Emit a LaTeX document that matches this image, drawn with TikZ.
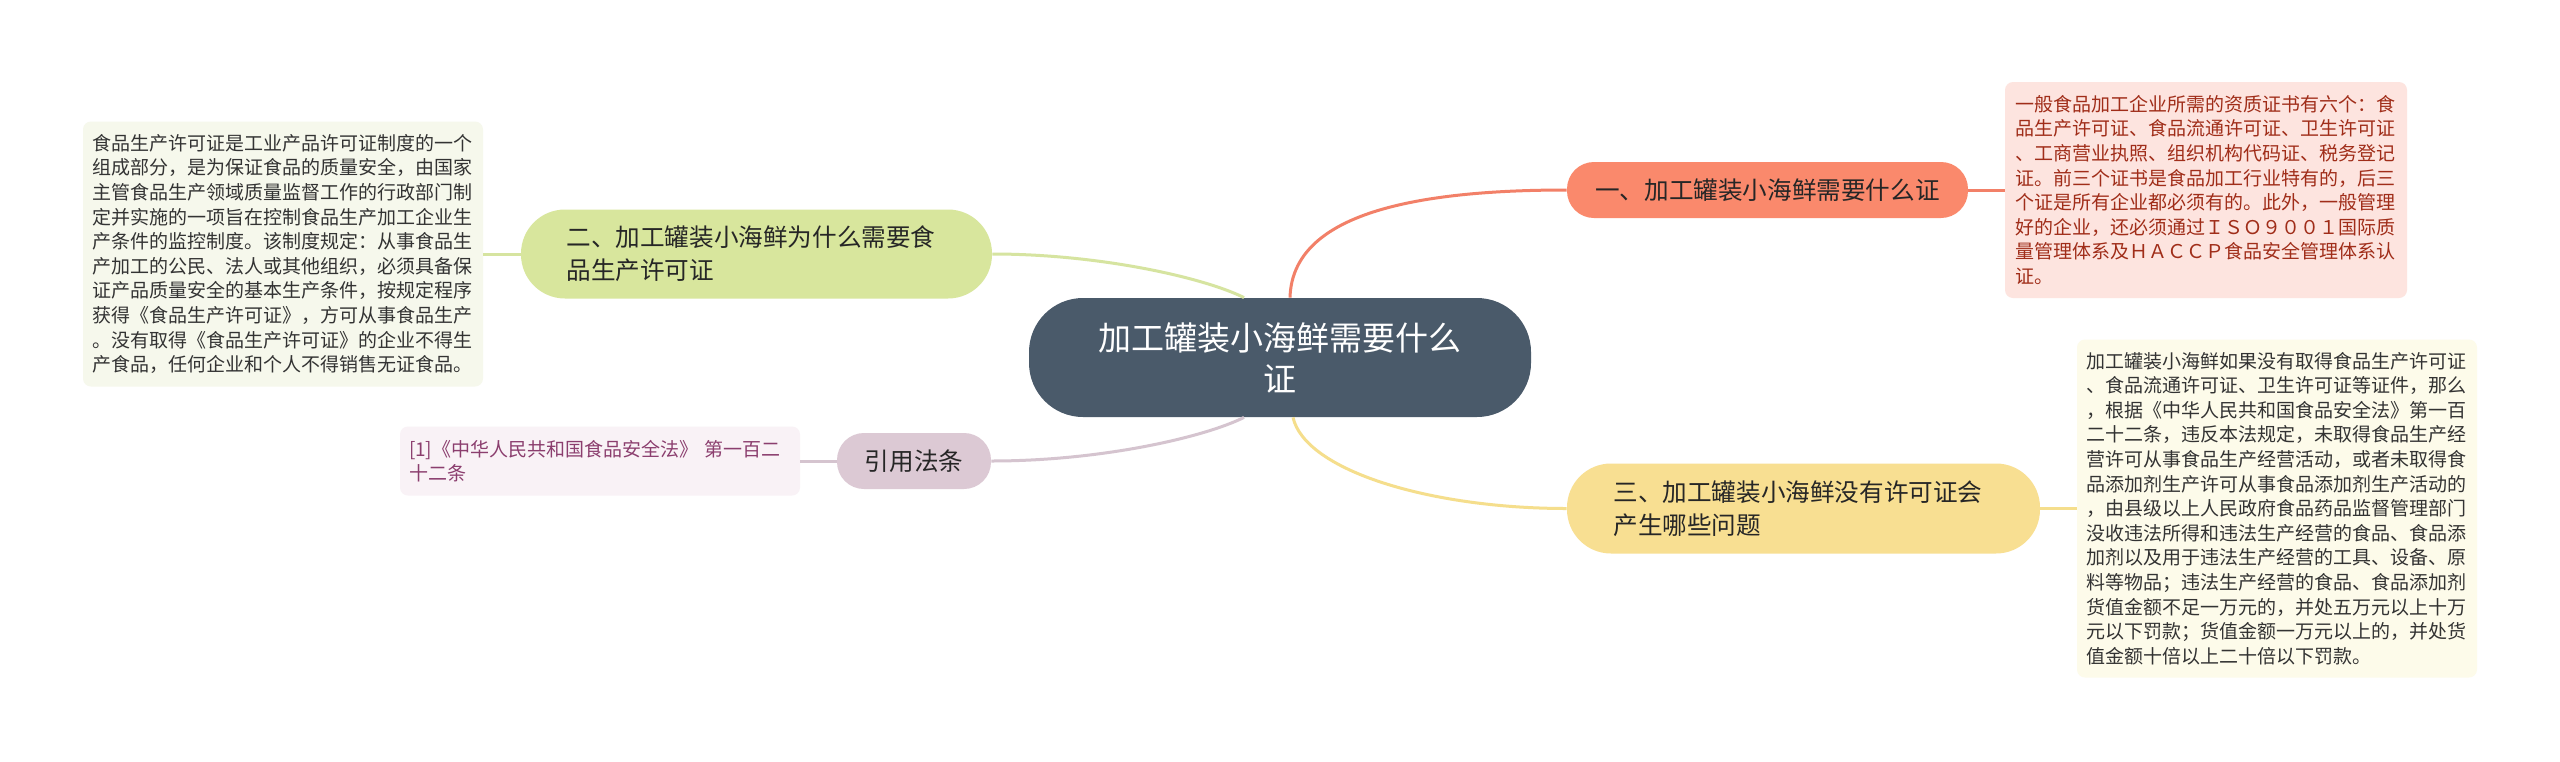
\documentclass[tikz,border=0pt]{standalone}
\usepackage{fontspec}
\setmainfont{Noto Sans CJK SC}
\usepackage{tikz}

\begin{document}
\begin{tikzpicture}[x=0.5pt,y=-0.5pt]
		
		\definecolor{slate}{RGB}{74,90,106}
		\definecolor{coral}{RGB}{250,137,108}
		\definecolor{coralline}{RGB}{242,128,104}
		\definecolor{blush}{RGB}{253,228,223}
		\definecolor{rust}{RGB}{160,45,25}
		\definecolor{sand}{RGB}{248,223,146}
		\definecolor{sandline}{RGB}{245,222,140}
		\definecolor{cream}{RGB}{253,251,234}
		\definecolor{lime}{RGB}{216,230,157}
		\definecolor{limeline}{RGB}{214,228,160}
		\definecolor{mist}{RGB}{246,248,236}
		\definecolor{mauve}{RGB}{220,201,212}
		\definecolor{mauveline}{RGB}{213,196,207}
		\definecolor{lilac}{RGB}{249,242,246}
		\definecolor{plum}{RGB}{139,62,110}
		
		\useasboundingbox (0,0) rectangle (2560,761);
		\fill[white] (0,0) rectangle (2560,761);
		
		\tikzstyle{edge} = [draw,-,line width=1.5pt]
		
		\tikzset{topic/.style = {shape=rectangle,rounded corners=27pt,fill=slate,text=white,minimum width=251pt,minimum height=59.5pt,align=center,font=\fontsize{16.5pt}{20.5pt}\selectfont}}
		\node[topic] (main) at (1280,357.5) {加工罐装小海鲜需要什么\\证};
		
		\tikzset{branch/.style = {shape=rectangle,text=black!85,inner sep=0pt,font=\fontsize{12.3pt}{16.5pt}\selectfont}}
		\node[branch,fill=coral,rounded corners=13.5pt,minimum width=200.5pt,minimum height=28pt] (q1) at (1767.5,190) {一、加工罐装小海鲜需要什么证};
		\node[branch,fill=lime,rounded corners=22pt,text width=190pt,inner xsep=22.75pt,minimum height=44.5pt,align=left] (q2) at (756.5,254) {二、加工罐装小海鲜为什么需要食\\品生产许可证};
		\node[branch,fill=sand,rounded corners=22pt,text width=190pt,inner xsep=23.25pt,minimum height=45pt,align=left] (q3) at (1803.5,508.5) {三、加工罐装小海鲜没有许可证会\\产生哪些问题};
		\node[branch,fill=mauve,rounded corners=13.5pt,minimum width=77pt,minimum height=28pt] (ref) at (914,461) {引用法条};
		
		\tikzset{note/.style = {shape=rectangle,rounded corners=4pt,text width=191pt,inner xsep=4.5pt,inner ysep=0pt,align=left,font=\fontsize{9.5pt}{12.3pt}\selectfont}}
		\node[note,fill=blush,text=rust,inner xsep=5pt,minimum height=108pt] (a1) at (2206,190) {一般食品加工企业所需的资质证书有六个：食\\品生产许可证、食品流通许可证、卫生许可证\\、工商营业执照、组织机构代码证、税务登记\\证。前三个证书是食品加工行业特有的，后三\\个证是所有企业都必须有的。此外，一般管理\\好的企业，还必须通过ＩＳＯ９００１国际质\\量管理体系及ＨＡＣＣＰ食品安全管理体系认\\证。};
		\node[note,fill=mist,text=black!80,minimum height=132.5pt] (a2) at (283,254) {食品生产许可证是工业产品许可证制度的一个\\组成部分，是为保证食品的质量安全，由国家\\主管食品生产领域质量监督工作的行政部门制\\定并实施的一项旨在控制食品生产加工企业生\\产条件的监控制度。该制度规定：从事食品生\\产加工的公民、法人或其他组织，必须具备保\\证产品质量安全的基本生产条件，按规定程序\\获得《食品生产许可证》，方可从事食品生产\\。没有取得《食品生产许可证》的企业不得生\\产食品，任何企业和个人不得销售无证食品。};
		\node[note,fill=cream,text=black!80,minimum height=169pt] (a3) at (2277,508.5) {加工罐装小海鲜如果没有取得食品生产许可证\\、食品流通许可证、卫生许可证等证件，那么\\，根据《中华人民共和国食品安全法》第一百\\二十二条，违反本法规定，未取得食品生产经\\营许可从事食品生产经营活动，或者未取得食\\品添加剂生产许可从事食品添加剂生产活动的\\，由县级以上人民政府食品药品监督管理部门\\没收违法所得和违法生产经营的食品、食品添\\加剂以及用于违法生产经营的工具、设备、原\\料等物品；违法生产经营的食品、食品添加剂\\货值金额不足一万元的，并处五万元以上十万\\元以下罚款；货值金额一万元以上的，并处货\\值金额十倍以上二十倍以下罚款。};
		\node[note,fill=lilac,text=plum,minimum height=34.5pt] (r1) at (600,461) {[1]《中华人民共和国食品安全法》 第一百二\\十二条};
		
		\draw[edge,draw=coralline] ([xshift=5pt]main.north) .. controls +(2,-72) and +(-185,0) .. (q1.west);
		\draw[edge,draw=limeline] ([xshift=-18pt]main.north) .. controls +(-40,-20) and +(107,0) .. (q2.east);
		\draw[edge,draw=mauveline] ([xshift=-18pt]main.south) .. controls +(-40,20) and +(109,0) .. (ref.east);
		\draw[edge,draw=sandline] ([xshift=6.5pt]main.south) .. controls +(12,53) and +(-137,0) .. (q3.west);
		\draw[edge,draw=coralline] (q1) to (a1);
		\draw[edge,draw=limeline] (q2) to (a2);
		\draw[edge,draw=sandline] (q3) to (a3);
		\draw[edge,draw=mauveline] (ref) to (r1);
		\end{tikzpicture}
\end{document}
